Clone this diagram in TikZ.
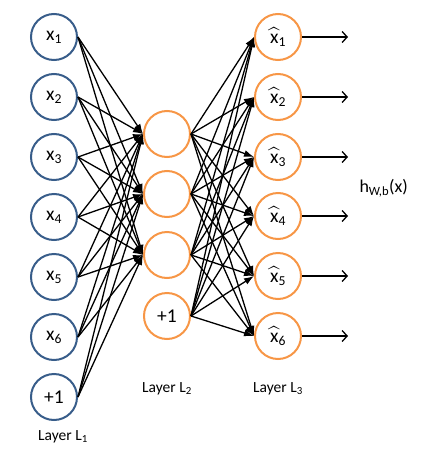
\documentclass[tikz,border=0pt]{standalone}
\usepackage{amsmath}
\usepackage{fontspec}
\setmainfont{Carlito}
\usepackage{tikz}
\usetikzlibrary{arrows.meta}

\definecolor{inblue}{RGB}{56,93,138}
\definecolor{hidorange}{RGB}{247,150,70}

\tikzset{
  unit/.style={circle, line width=2pt, minimum size=46pt, inner sep=0pt,
    font=\fontsize{19.5}{22}\selectfont},
  inunit/.style={unit, draw=inblue},
  hidunit/.style={unit, draw=hidorange},
  wire/.style={black, line width=1.3pt, -{Latex[length=10pt,width=7pt]}},
  outwire/.style={black, line width=1.3pt, -{Straight Barb[length=5pt,width=11pt]}},
  layerlabel/.style={font=\fontsize{15.5}{18}\selectfont}
}
\newcommand{\xhat}[1]{$\widehat{\text{x}}_{\text{#1}}$}

\begin{document}
\begin{tikzpicture}[x=1pt,y=-1pt]
\useasboundingbox (0,0) rectangle (429,458);
% layer 1
\node[inunit] (a1) at (54,37)  {x\textsubscript{1}};
\node[inunit] (a2) at (54,97)  {x\textsubscript{2}};
\node[inunit] (a3) at (54,157) {x\textsubscript{3}};
\node[inunit] (a4) at (54,217) {x\textsubscript{4}};
\node[inunit] (a5) at (54,277) {x\textsubscript{5}};
\node[inunit] (a6) at (54,337) {x\textsubscript{6}};
\node[inunit] (a7) at (54,397) {+1};
% layer 2
\node[hidunit] (b1) at (167,134) {};
\node[hidunit] (b2) at (167,194) {};
\node[hidunit] (b3) at (167,255) {};
\node[hidunit] (b4) at (167,316) {+1};
% layer 3
\node[hidunit] (c1) at (278,37)  {\xhat{1}};
\node[hidunit] (c2) at (278,97)  {\xhat{2}};
\node[hidunit] (c3) at (278,157) {\xhat{3}};
\node[hidunit] (c4) at (278,216) {\xhat{4}};
\node[hidunit] (c5) at (278,276) {\xhat{5}};
\node[hidunit] (c6) at (278,336) {\xhat{6}};
% outputs
\foreach \i in {1,...,6}
  \coordinate (o\i) at ([xshift=46pt]c\i.east);
% connections
\foreach \i in {1,...,7}
  \foreach \j in {1,2,3}
    \draw[wire] (a\i.east) -- (b\j.west);
\foreach \i in {1,...,4}
  \foreach \j in {1,...,6}
    \draw[wire] (b\i.east) -- (c\j.west);
\foreach \i in {1,...,6}
  \draw[outwire] (c\i.east) -- (o\i);
% labels
\node[layerlabel, anchor=west, font=\fontsize{18}{21}\selectfont] (hlab) at (356,188) {h\textsubscript{W,b}(x)};
\node[layerlabel] (l1) at (63,437) {Layer L\textsubscript{1}};
\node[layerlabel] (l2) at (167,389) {Layer L\textsubscript{2}};
\node[layerlabel] (l3) at (278,389) {Layer L\textsubscript{3}};
\end{tikzpicture}
\end{document}
